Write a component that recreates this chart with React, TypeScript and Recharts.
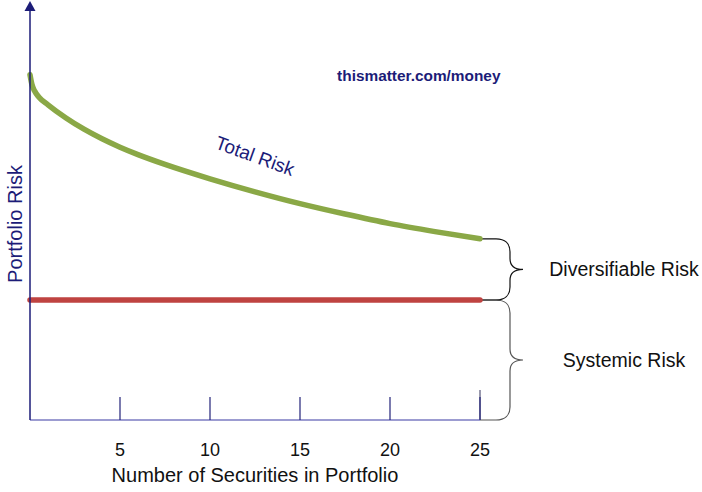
import React from 'react';
import {
  LineChart,
  Line,
  XAxis,
  YAxis,
  ReferenceArea,
  ReferenceDot,
  ReferenceLine,
} from 'recharts';

// Number of securities (x) and portfolio risk (y, arbitrary units)
const securityCounts = [0, 0.1, 0.25, 0.5, 1, 2, 3, 4, 5, 6, 7.5, 10, 12.5, 15, 17.5, 20, 22.5, 25];
const totalRiskValues = [86.3, 84.0, 82.3, 80.7, 78.8, 75.5, 72.7, 70.3, 68.2, 66.35, 63.9, 60.3, 57.05, 54.1, 51.5, 49.1, 47.1, 45.3];
const systemicCounts = [0, 25];
const systemicValues = [30, 30];
const xTicks = [5, 10, 15, 20, 25];
const yDomainMax = 102.5;

const totalData = securityCounts.map((x, i) => ({ x, risk: totalRiskValues[i] }));
const systemicData = systemicCounts.map((x, i) => ({ x, risk: systemicValues[i] }));

const FONT = '"Liberation Sans", Arial, sans-serif';
const NAVY = '#1c1c78';

const bracePath = (R: number, yT: number, yB: number) => {
  const yM = (yT + yB) / 2;
  const v = R + 30;
  const tip = R + 43;
  return [
    `M ${R} ${yT}`,
    `L ${R + 16} ${yT}`,
    `C ${R + 25} ${yT} ${v} ${yT + 5} ${v} ${yT + 13}`,
    `L ${v} ${yM - 11}`,
    `C ${v} ${yM - 3} ${v + 5} ${yM} ${tip} ${yM}`,
    `C ${v + 5} ${yM} ${v} ${yM + 3} ${v} ${yM + 11}`,
    `L ${v} ${yB - 13}`,
    `C ${v} ${yB - 5} ${R + 25} ${yB} ${R + 16} ${yB}`,
    `L ${R} ${yB}`,
  ].join(' ');
};

const Brace = (color: string, label: string) => (p: any) => {
  const R = p.x + p.width;
  const yT = p.y;
  const yB = p.y + p.height;
  const yM = (yT + yB) / 2;
  return (
    <g>
      <path d={bracePath(R, yT, yB)} fill="none" stroke={color} strokeWidth={1.2} />
      <text
        x={R + 144}
        y={yM}
        textAnchor="middle"
        dominantBaseline="central"
        fontSize={19.5}
        fontFamily={FONT}
        fill="#111"
      >
        {label}
      </text>
    </g>
  );
};

export default function App() {
  return (
    <div style={{ position: 'absolute', left: 0, top: 0, background: '#fff' }}>
      <LineChart
        width={702}
        height={492}
        margin={{ top: 10, right: 222, left: 0, bottom: 0 }}
        style={{ fontFamily: FONT }}
      >
        <XAxis
          dataKey="x"
          type="number"
          domain={[0, 25]}
          ticks={xTicks}
          height={72}
          axisLine={{ stroke: '#7b7bc2', strokeWidth: 1.5 }}
          tickLine={{ stroke: '#22227a', strokeWidth: 1.2 }}
          tickSize={-23}
          tickMargin={46}
          tick={{ fill: '#111', fontSize: 18, fontFamily: FONT }}
          label={{
            content: (props: any) => {
              const vb = props.viewBox;
              return (
                <text
                  x={vb.x + vb.width / 2}
                  y={482}
                  textAnchor="middle"
                  fontSize={20}
                  fontFamily={FONT}
                  fill="#111"
                >
                  Number of Securities in Portfolio
                </text>
              );
            },
          }}
        />
        <YAxis
          type="number"
          domain={[0, yDomainMax]}
          width={30}
          tick={false}
          tickLine={false}
          axisLine={{ stroke: NAVY, strokeWidth: 1.5 }}
          label={{
            content: () => (
              <text
                x={15}
                y={224}
                transform="rotate(-90 15 224)"
                textAnchor="middle"
                dominantBaseline="central"
                fontSize={20}
                fontFamily={FONT}
                fill={NAVY}
              >
                Portfolio Risk
              </text>
            ),
          }}
        />
        <ReferenceLine
          segment={[
            { x: 25, y: 0 },
            { x: 25, y: 7.5 },
          ]}
          stroke="#555577"
          strokeWidth={1.2}
          ifOverflow="visible"
        />
        <ReferenceArea
          x1={22}
          x2={25}
          y1={0}
          y2={30}
          ifOverflow="visible"
          shape={Brace('#555', 'Systemic Risk')}
        />
        <ReferenceArea
          x1={22}
          x2={25}
          y1={30}
          y2={45.3}
          ifOverflow="visible"
          shape={Brace('#111', 'Diversifiable Risk')}
        />
        <Line
          data={systemicData}
          dataKey="risk"
          stroke="#bf4341"
          strokeWidth={5.5}
          strokeLinecap="round"
          dot={false}
          activeDot={false}
          isAnimationActive={false}
        />
        <Line
          data={totalData}
          dataKey="risk"
          type="monotone"
          stroke="#8aa846"
          strokeWidth={5.5}
          strokeLinecap="round"
          dot={false}
          activeDot={false}
          isAnimationActive={false}
        />
        <ReferenceDot
          x={0}
          y={yDomainMax}
          ifOverflow="visible"
          shape={(p: any) => (
            <path
              d={`M ${p.cx} ${p.cy - 9} L ${p.cx + 5.5} ${p.cy + 1} L ${p.cx - 5.5} ${p.cy + 1} Z`}
              fill={NAVY}
            />
          )}
        />
        <ReferenceDot
          x={12.5}
          y={66}
          ifOverflow="visible"
          shape={(p: any) => (
            <text
              x={p.cx}
              y={p.cy}
              transform={`rotate(20 ${p.cx} ${p.cy})`}
              textAnchor="middle"
              dominantBaseline="central"
              fontSize={19}
              fontFamily={FONT}
              fill={NAVY}
            >
              Total Risk
            </text>
          )}
        />
        <ReferenceDot
          x={21.6}
          y={86.25}
          ifOverflow="visible"
          shape={(p: any) => (
            <text
              x={p.cx}
              y={p.cy}
              textAnchor="middle"
              dominantBaseline="central"
              fontSize={15.4}
              fontWeight="bold"
              fontFamily={FONT}
              fill={NAVY}
            >
              thismatter.com/money
            </text>
          )}
        />
      </LineChart>
    </div>
  );
}
